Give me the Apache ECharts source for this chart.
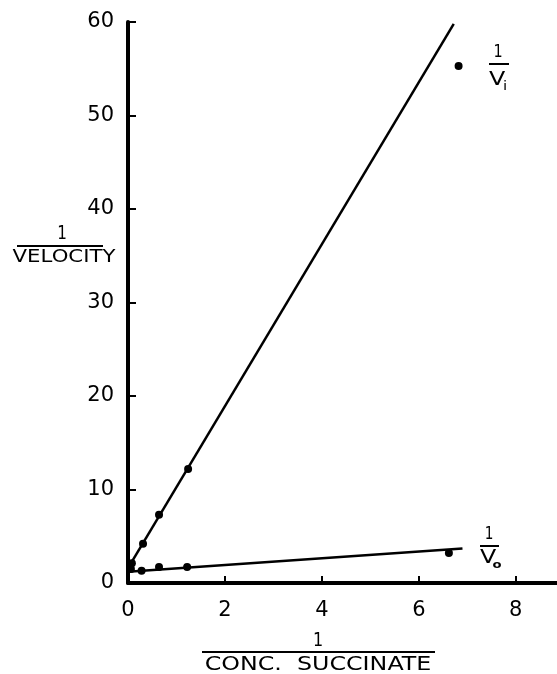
<!DOCTYPE html>
<html>
<head>
<meta charset="utf-8">
<script src="https://cdn.jsdelivr.net/npm/echarts@6/dist/echarts.min.js"></script>
<style>html,body{margin:0;padding:0;background:#fff}#c{width:557px;height:674px}</style>
</head>
<body>
<div id="c"></div>
<script>
// Data
const xTickLabels = [0, 2, 4, 6, 8];
const yTickLabels = [0, 10, 20, 30, 40, 50, 60];
// 1/Vi (inhibited) observed points [1/conc, 1/velocity]
const viPoints = [[0.08, 2.1], [0.31, 4.2], [0.64, 7.3], [1.24, 12.2], [6.82, 55.3]];
// 1/Vo (uninhibited) observed points
const voPoints = [[0.06, 1.5], [0.28, 1.3], [0.64, 1.7], [1.22, 1.7], [6.62, 3.2]];
// fitted lines (endpoints)
const viLine = [[0, 1.6], [6.72, 59.8]];
const voLine = [[0, 1.2], [6.9, 3.7]];

const chart = echarts.init(document.getElementById('c'));
const F = 'DejaVu Sans';
function txt(x, y, s, size, sx, weight) {
  return { type: 'text', x: x, y: y, scaleX: sx || 1.25, style: { text: s, font: (weight || 'normal') + ' ' + size + 'px ' + F, fill: '#000', textAlign: 'center', textVerticalAlign: 'middle' } };
}
chart.setOption({
  backgroundColor: '#fff',
  animation: false,
  grid: { left: 128, right: 0, top: 22, bottom: 91 },
  xAxis: {
    type: 'value', min: 0, max: 8.85,
    axisLine: { show: true, onZero: false, lineStyle: { color: '#000', width: 4 } },
    axisTick: { show: true, inside: true, length: 7, lineStyle: { color: '#000', width: 2 }, customValues: xTickLabels.filter(v => v > 0) },
    axisLabel: { customValues: xTickLabels, color: '#000', fontFamily: F, fontSize: 21, margin: 17 },
    splitLine: { show: false }
  },
  yAxis: {
    type: 'value', min: 0, max: 60, interval: 10,
    axisLine: { show: true, onZero: false, lineStyle: { color: '#000', width: 4 } },
    axisTick: { show: true, inside: true, length: 8, lineStyle: { color: '#000', width: 2 }, customValues: yTickLabels.filter(v => v > 0) },
    axisLabel: { customValues: yTickLabels, color: '#000', fontFamily: F, fontSize: 21, margin: 14 },
    splitLine: { show: false }
  },
  series: [
    { type: 'line', data: viLine, symbol: 'none', lineStyle: { color: '#000', width: 2.5 }, silent: true },
    { type: 'line', data: voLine, symbol: 'none', lineStyle: { color: '#000', width: 2.5 }, silent: true },
    { type: 'scatter', data: viPoints, symbolSize: 8, itemStyle: { color: '#000', opacity: 1 } },
    { type: 'scatter', data: voPoints, symbolSize: 8, itemStyle: { color: '#000', opacity: 1 } }
  ],
  graphic: [
    // y-axis title: 1 / VELOCITY
    txt(62, 234, '1', 19, 0.8),
    { type: 'line', shape: { x1: 17, y1: 246, x2: 103, y2: 246 }, style: { stroke: '#000', lineWidth: 2 } },
    txt(64, 258, 'VELOCITY', 17),
    // x-axis title: 1 / CONC. SUCCINATE
    txt(318, 641, '1', 20, 0.8),
    { type: 'line', shape: { x1: 202, y1: 652, x2: 435, y2: 652 }, style: { stroke: '#000', lineWidth: 2 } },
    txt(318, 665, 'CONC.  SUCCINATE', 19),
    // series label 1/Vi
    txt(498, 52, '1', 18, 0.8),
    { type: 'line', shape: { x1: 489, y1: 64, x2: 509, y2: 64 }, style: { stroke: '#000', lineWidth: 2 } },
    txt(497, 80, 'V', 19),
    txt(505, 87, 'i', 12),
    // series label 1/Vo
    txt(489, 535, '1', 17, 0.8),
    { type: 'line', shape: { x1: 480, y1: 546, x2: 499, y2: 546 }, style: { stroke: '#000', lineWidth: 2 } },
    txt(488, 558, 'V', 19),
    txt(497, 565, 'o', 11, 1.2, 'bold')
  ]
});
</script>
</body>
</html>
